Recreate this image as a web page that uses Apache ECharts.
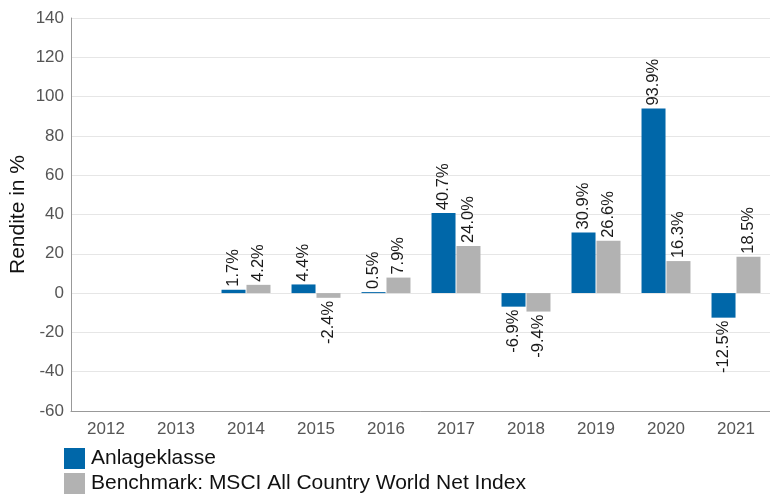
<!DOCTYPE html>
<html><head><meta charset="utf-8">
<script src="https://cdn.jsdelivr.net/npm/echarts@6/dist/echarts.min.js"></script>
<style>html,body{margin:0;padding:0;background:#fff}#c{width:770px;height:496px}</style>
</head><body><div id="c"></div>
<script>
const categories = ['2012','2013','2014','2015','2016','2017','2018','2019','2020','2021'];
const anlageklasse = [null, null, 1.7, 4.4, 0.5, 40.7, -6.9, 30.9, 93.9, -12.5];
const benchmark = [null, null, 4.2, -2.4, 7.9, 24.0, -9.4, 26.6, 16.3, 18.5];
const yTicks = [-60, -40, -20, 0, 20, 40, 60, 80, 100, 120, 140];
const seriesNames = ['Anlageklasse', 'Benchmark: MSCI All Country World Net Index'];

const FONT = 'Liberation Sans, Arial, sans-serif';
function toData(arr) {
  return arr.map(v => {
    if (v === null) return null;
    const neg = v < 0;
    return {
      value: v,
      label: {
        show: true,
        position: neg ? 'bottom' : 'top',
        rotate: 90,
        align: neg ? 'right' : 'left',
        verticalAlign: 'middle',
        distance: 3,
        formatter: p => p.value.toFixed(1) + '%',
        color: '#1a1a1a',
        fontSize: 16.5,
        fontFamily: FONT
      }
    };
  });
}
const chart = echarts.init(document.getElementById('c'));
chart.setOption({
  animation: false,
  grid: { left: 71, right: -1, top: 18, bottom: 85, containLabel: false, outerBoundsMode: 'none' },
  legend: {
    orient: 'vertical', left: 64, top: 448, padding: 0,
    itemWidth: 21, itemHeight: 21, itemGap: 4,
    icon: 'rect',
    textStyle: { fontSize: 21, color: '#111', fontFamily: FONT, padding: [0, 0, 0, 1] },
    data: seriesNames
  },
  xAxis: {
    type: 'category', data: categories,
    axisLine: { onZero: false, lineStyle: { color: '#999' } },
    axisTick: { show: false },
    axisLabel: { color: '#555', fontSize: 17, fontFamily: FONT, margin: 10 }
  },
  yAxis: {
    type: 'value', min: yTicks[0], max: yTicks[yTicks.length - 1], interval: 20,
    name: 'Rendite in %', nameLocation: 'middle', nameGap: 42, nameRotate: 90,
    nameMoveOverlap: false,
    nameTextStyle: { fontSize: 21, color: '#111', fontFamily: FONT },
    axisLine: { show: true, lineStyle: { color: '#999' } },
    axisTick: { show: false },
    splitLine: { lineStyle: { color: '#e6e6e6' } },
    axisLabel: { color: '#555', fontSize: 17, fontFamily: FONT, margin: 7 }
  },
  series: [
    { name: seriesNames[0], type: 'bar', data: toData(anlageklasse), barWidth: 24, barGap: '4%', itemStyle: { color: '#0067a9' } },
    { name: seriesNames[1], type: 'bar', data: toData(benchmark), barWidth: 24, itemStyle: { color: '#b2b2b2' } }
  ]
});
</script></body></html>
